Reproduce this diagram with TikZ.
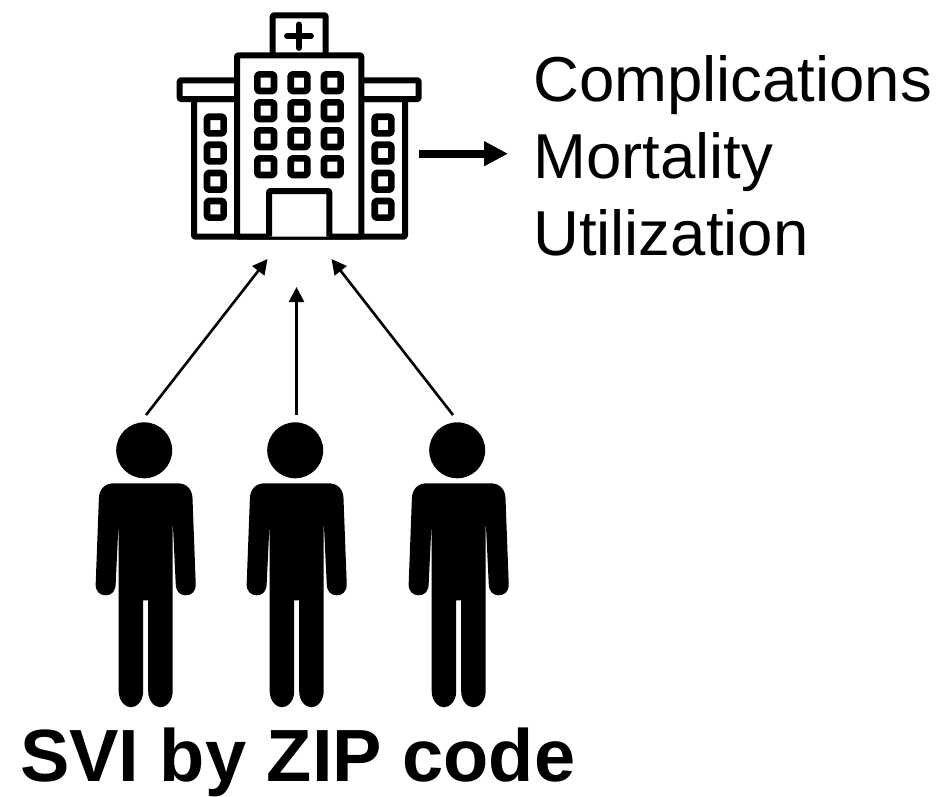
\documentclass[tikz,border=0pt]{standalone}
\usepackage{fontspec}
\setmainfont{Liberation Sans}
\usetikzlibrary{arrows.meta}
\tikzset{
  px/.style={x=1pt,y=-1pt},
  hosp/.style={line width=6pt,line join=round,draw=black,fill=white,rounded corners=1pt},
  win/.style={line width=6.6pt,line join=round,draw=black,fill=white,rounded corners=1.5pt},
  thinarrow/.style={line width=2.6pt,-{Triangle[length=15pt,width=15pt]},shorten >=0pt},
  thickarrow/.style={line width=7.6pt,-{Triangle[length=24pt,width=23.5pt,sep=0pt]}},
  label/.style={anchor=base west,inner sep=0pt,font=\fontsize{63.5}{64}\selectfont},
  caption/.style={anchor=base west,inner sep=0pt,font=\fontsize{74}{74}\selectfont\bfseries},
  pics/person/.style={code={
    \fill (-1.5,-257) circle (28);
    \fill (-32,-224) .. controls (-41,-224) and (-46.5,-218) .. (-46.8,-209)
      -- (-50,-124) .. controls (-50.5,-116) and (-46,-112) .. (-40,-112)
      .. controls (-34,-112) and (-30,-116) .. (-30,-124)
      -- (-27,-187) -- (-27,-16) .. controls (-27,-6) and (-20,0) .. (-15,0)
      .. controls (-9,0) and (-2.5,-6) .. (-2.5,-16) -- (-2.5,-107) -- (2.5,-107) -- (2.5,-16)
      .. controls (2.5,-6) and (9,0) .. (15,0)
      .. controls (20,0) and (27,-6) .. (27,-16) -- (27,-187)
      -- (30,-124) .. controls (30,-116) and (34,-112) .. (40,-112)
      .. controls (46,-112) and (50.5,-116) .. (50,-124)
      -- (46.8,-209) .. controls (46.5,-218) and (41,-224) .. (32,-224) -- cycle;
  }}
}
\begin{document}
\begin{tikzpicture}[px]
\useasboundingbox (0,0) rectangle (942,796);
% hospital
\draw[hosp] (272.7,55.3) -- (272.7,15.3) -- (325.7,15.3) -- (325.7,55.3);
\draw[hosp] (194,99) rectangle (405,236.7);
\draw[hosp] (179.7,80.3) rectangle (418.7,99);
\draw[hosp] (237,236.7) rectangle (361.3,55.3);
\draw[hosp] (269,236.7) -- (269,191) -- (329.3,191) -- (329.3,236.7);
\draw[line width=5.8pt,line cap=round] (287,36) -- (311,36) (298.7,24.5) -- (298.7,48);
\foreach \x in {265.7,299,332.3}\foreach \y in {82.7,110.7,138.7,166.7}
  \draw[win] (\x-8.3,\y-8.3) rectangle (\x+8.3,\y+8.3);
\foreach \x in {215.3,383}\foreach \y in {125,153,181.3,209.3}
  \draw[win] (\x-8.3,\y-8.3) rectangle (\x+8.3,\y+8.3);
% people
\pic at (145.7,707.3) {person};
\pic at (296.7,707.3) {person};
\pic at (458.7,707.3) {person};
% connectors
\coordinate (hospout) at (418.5,153.7);
\coordinate (outcome) at (508,153.7);
\coordinate (hospa) at (267.5,259);
\coordinate (hospb) at (296.5,287);
\coordinate (hospc) at (331.5,259);
\coordinate (pa) at (146,415);
\coordinate (pb) at (296.5,415);
\coordinate (pc) at (453,415);
\draw[thickarrow] (hospout) -- (outcome);
\draw[thinarrow] (pa) -- (hospa);
\draw[thinarrow] (pb) -- (hospb);
\draw[thinarrow] (pc) -- (hospc);
% text
\node[label] (compl) at (533,101) {Complications};
\node[label] (mort) at (533,178) {Mortality};
\node[label] (util) at (533,255) {Utilization};
\node[caption] (svi) at (20,781) {SVI by ZIP code};
\end{tikzpicture}
\end{document}
